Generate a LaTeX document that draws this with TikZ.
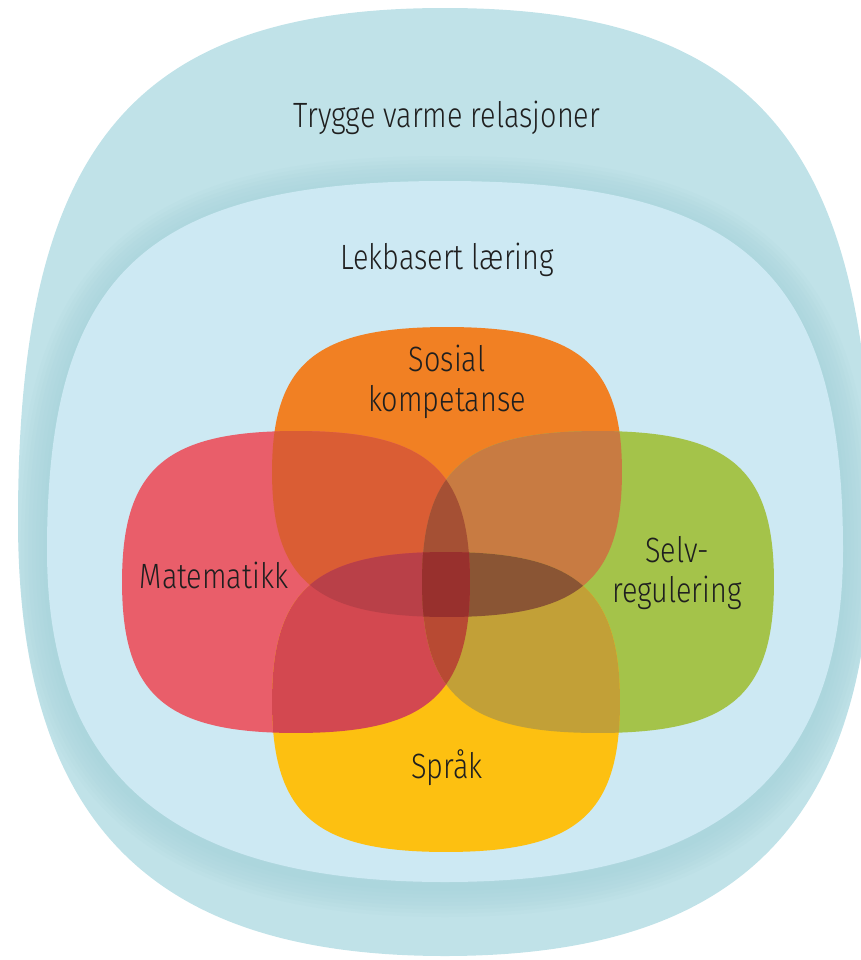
\documentclass[tikz,border=0pt]{standalone}
\usepackage{fontspec}
\setmainfont{Fira Sans Light}[FakeStretch=0.82]
\usetikzlibrary{positioning,calc}
\definecolor{ytre}{HTML}{C0E2E8}
\definecolor{skygge}{HTML}{A3D1DA}
\definecolor{indre}{HTML}{CDE9F3}
\definecolor{oransje}{HTML}{F18023}
\definecolor{rod}{HTML}{E95E6A}
\definecolor{gronn}{HTML}{A4C34A}
\definecolor{gul}{HTML}{FDC011}
\definecolor{SosMat}{HTML}{DA5D34}
\definecolor{SosSelv}{HTML}{C87B42}
\definecolor{SprMat}{HTML}{D34850}
\definecolor{SprSelv}{HTML}{C2A037}
\definecolor{SosSpr}{HTML}{B84A3A}
\definecolor{MatSelv}{HTML}{B04A3A}
\definecolor{SosSprMat}{HTML}{B94048}
\definecolor{SosSprSelv}{HTML}{8A5534}
\definecolor{SosMatSelv}{HTML}{A55034}
\definecolor{SprMatSelv}{HTML}{B84A33}
\definecolor{alle}{HTML}{98302D}
\tikzset{
blob/.style={rectangle,outer sep=0pt,inner sep=0pt}
}
\tikzset{
lbl/.style={font=\fontsize{20}{23}\selectfont,text=black!88,align=center}
}
\newcommand\ytrekant{(872,520) .. controls (872,146) and (757,8) .. (445,8) .. controls (133,8) and (18,146) .. (18,520) .. controls (18,821) and (150,956) .. (445,956) .. controls (740,956) and (872,821) .. (872,520) -- cycle}
\newcommand\indrekant{(843,550) .. controls (843,273) and (744,181) .. (445,181) .. controls (146,181) and (47,273) .. (47,550) .. controls (47,776) and (174,882) .. (445,882) .. controls (716,882) and (843,776) .. (843,550) -- cycle}
\newcommand\squircle[1]{(#1.east) .. controls ($(#1.east)!0.75!(#1.north east)$) and ($(#1.north)!0.75!(#1.north east)$) .. (#1.north) .. controls ($(#1.north)!0.75!(#1.north west)$) and ($(#1.west)!0.75!(#1.north west)$) .. (#1.west) .. controls ($(#1.west)!0.75!(#1.south west)$) and ($(#1.south)!0.75!(#1.south west)$) .. (#1.south) .. controls ($(#1.south)!0.75!(#1.south east)$) and ($(#1.east)!0.75!(#1.south east)$) .. (#1.east) -- cycle}

\begin{document}
\begin{tikzpicture}[x=0.02cm,y=-0.02cm]
\useasboundingbox (0,0) rectangle (861,960);

\fill[ytre] \ytrekant;
\begin{scope}
\clip \ytrekant;
\foreach \w in {0.15,0.3,...,1.35}
{
\draw[skygge,line width=\w cm,opacity=0.1,yshift=-0.1cm] \indrekant;
}
\end{scope}
\fill[indre] \indrekant;

\node[lbl] (trygge) at (447,118) {Trygge varme relasjoner};
\node[lbl] (lek) at (447,260) {Lekbasert læring};

%------------------------------------------------------------------------------------------------------------%
\node[blob,minimum width=7cm,minimum height=5.8cm] (sosial) at (447,472) {};
\node[blob,minimum width=6.96cm,minimum height=6.04cm] (mat) at (296,582) {};
\node[blob,minimum width=7.04cm,minimum height=6.04cm] (selv) at (598,582) {};
\node[blob,minimum width=6.96cm,minimum height=6cm] (sprak) at (446,702) {};
\fill[oransje] \squircle{sosial};
\fill[rod] \squircle{mat};
\fill[gronn] \squircle{selv};
\fill[gul] \squircle{sprak};
%------------------------------------------------------------------------------------------------------------%
\foreach \p/\q/\col in {sosial/sprak/SosSpr,mat/selv/MatSelv,sosial/mat/SosMat,sosial/selv/SosSelv,sprak/mat/SprMat,sprak/selv/SprSelv}
{
\begin{scope}
\clip \squircle{\p};
\fill[\col] \squircle{\q};
\end{scope}
}
\foreach \p/\q/\r/\col in {sosial/sprak/mat/SosSprMat,sosial/sprak/selv/SosSprSelv,sosial/mat/selv/SosMatSelv,sprak/mat/selv/SprMatSelv}
{
\begin{scope}
\clip \squircle{\p};
\clip \squircle{\q};
\fill[\col] \squircle{\r};
\end{scope}
}
\begin{scope}
\clip \squircle{sosial};
\clip \squircle{sprak};
\clip \squircle{mat};
\fill[alle] \squircle{selv};
\end{scope}
%------------------------------------------------------------------------------------------------------------%
\node[lbl] (sosialtxt) at (447,382) {Sosial\\kompetanse};
\node[lbl] (mattxt) at (214,575) {Matematikk};
\node[lbl] (selvtxt) at (677,573) {Selv-\\regulering};
\node[lbl] (spraktxt) at (447,768) {Språk};

\end{tikzpicture}
\end{document}
